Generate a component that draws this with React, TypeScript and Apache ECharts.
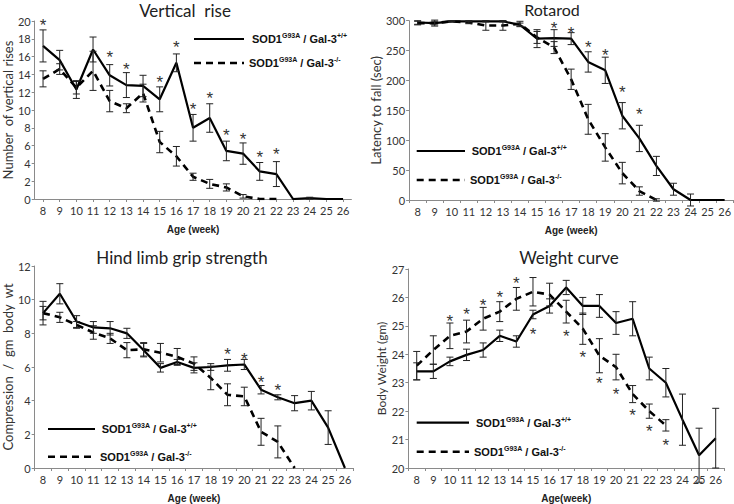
import React, { useEffect, useRef } from 'react';
import * as echarts from 'echarts';

const weeks = ['8', '9', '10', '11', '12', '13', '14', '15', '16', '17', '18', '19', '20', '21', '22', '23', '24', '25', '26'];

// Vertical rise
const vrWT = [17.2, 15.6, 12.3, 16.8, 13.9, 12.8, 12.7, 11.2, 15.3, 8.0, 9.1, 5.4, 5.1, 3.1, 2.8, 0, 0.1, 0, 0];
const vrWTErr = [1.8, 1.1, 1.0, 1.4, 1.2, 1.4, 1.2, 1.4, 1.0, 1.5, 1.6, 1.1, 1.2, 1.0, 1.4, 0, 0.1, 0, 0];
const vrKO = [13.5, 14.6, 12.5, 14.4, 11.0, 10.2, 11.9, 6.4, 4.8, 2.5, 1.7, 1.3, 0.3, 0, 0, null, null, null, null];
const vrKOErr = [0.9, 0.6, 0.7, 2.2, 1.2, 0.5, 1.0, 1.2, 1.1, 0.4, 0.5, 0.4, 0.2, 0, 0, null, null, null, null];
const vrStars = [[8, 19.9], [12, 16.3], [13, 15.0], [15, 13.5], [16, 17.5], [17, 10.5], [18, 11.7], [19, 7.6], [20, 7.1], [21, 5.1], [22, 5.4]];

// Rotarod
const rrWT = [297, 296, 299, 299, 299, 299, 293, 270, 271, 270, 231, 217, 141, 103, 57, 18, 0, 0, 0];
const rrWTErr = [3, 5, 1, 1, 1, 1, 3, 15, 14, 10, 17, 22, 22, 22, 16, 10, 10, 0, 0];
const rrKO = [296, 296, 299, 297, 292, 292, 295, 272, 255, 202, 135, 88, 45, 15, 0, null, null, null, null];
const rrKOErr = [3, 3, 1, 2, 8, 8, 4, 10, 10, 17, 25, 23, 18, 7, 2, null, null, null, null];
const rrStars = [[16, 294], [17, 286], [18, 262], [19, 248], [20, 187], [21, 149]];

// Hind limb grip strength
const gsWT = [9.2, 10.35, 8.7, 8.35, 8.3, 8.0, 7.0, 5.95, 6.3, 5.95, 6.0, 6.1, 6.15, 4.65, 4.2, 3.85, 4.0, 2.4, 0];
const gsWTErr = [0.7, 0.6, 0.35, 0.35, 0.4, 0.3, 0.4, 0.25, 0.15, 0.3, 0.2, 0.35, 0.3, 0.25, 0.15, 0.45, 0.55, 1.0, 0];
const gsKO = [9.2, 8.95, 8.5, 8.05, 7.7, 7.0, 7.05, 6.85, 6.6, 6.2, 5.35, 4.35, 4.25, 2.15, 1.55, 0, null, null, null];
const gsKOErr = [0.4, 0.3, 0.2, 0.4, 0.3, 0.45, 0.4, 0.55, 0.5, 0.4, 0.7, 0.65, 0.55, 0.8, 0.95, 0, null, null, null];
const gsStars = [[19, 7.0], [20, 6.7], [21, 5.3], [22, 4.85]];

// Weight curve
const wcWT = [23.4, 23.4, 23.75, 23.98, 24.15, 24.65, 24.45, 25.4, 25.7, 26.35, 25.7, 25.7, 25.1, 25.25, 23.5, 23.0, 21.7, 20.45, 21.05];
const wcWTErr = [0.3, 0.25, 0.15, 0.2, 0.25, 0.2, 0.2, 0.15, 0.25, 0.25, 0.3, 0.4, 0.4, 0.6, 0.4, 0.5, 0.9, 0.95, 1.05];
const wcKO = [23.6, 24.15, 24.65, 24.8, 25.25, 25.5, 25.95, 26.2, 26.1, 25.5, 24.9, 23.95, 23.55, 22.6, 22.0, 21.5, null, null, null];
const wcKOErr = [0.5, 0.5, 0.45, 0.4, 0.4, 0.35, 0.4, 0.5, 0.4, 0.4, 0.55, 0.6, 0.45, 0.3, 0.25, 0.2, null, null, null];
const wcStars = [[10, 25.31], [11, 25.55], [12, 25.87], [13, 26.15], [14, 26.62], [15, 24.85], [17, 24.77], [18, 24.04], [19, 23.12], [20, 22.73], [21, 22.0], [22, 21.42], [23, 20.92]];

const FONT = 'Lato, "Open Sans", sans-serif';
const AXIS_COLOR = '#8a8a8a';

type PanelCfg = {
  title: string;
  titleX: number;
  titleY: number;
  titleSize: number;
  grid: { left: number; top: number; width: number; height: number };
  yName: string;
  yNameGap: number;
  yNameSize: number;
  xName: string;
  yMin: number;
  yMax: number;
  yInterval: number;
  alignTicks: boolean;
  wt: (number | null)[];
  wtErr: (number | null)[];
  ko: (number | null)[];
  koErr: (number | null)[];
  stars: number[][];
  legend: { x1: number; x2: number; tx: number; y1: number; y2: number; tx2: number };
};

const panels: PanelCfg[] = [
  {
    title: 'Vertical  rise', titleX: 185, titleY: 2, titleSize: 17,
    grid: { left: 34.7, top: 21, width: 316.7, height: 178 },
    yName: 'Number  of vertical rises', yNameGap: 18, yNameSize: 13, xName: 'Age (week)',
    yMin: 0, yMax: 20, yInterval: 2, alignTicks: true,
    wt: vrWT, wtErr: vrWTErr, ko: vrKO, koErr: vrKOErr, stars: vrStars,
    legend: { x1: 194, x2: 244, tx: 252, y1: 39, y2: 63, tx2: 249 },
  },
  {
    title: 'Rotarod', titleX: 552, titleY: 1, titleSize: 16,
    grid: { left: 409.1, top: 20.7, width: 325, height: 179.3 },
    yName: 'Latency to fall (sec)', yNameGap: 26, yNameSize: 13, xName: 'Age (week)',
    yMin: 0, yMax: 300, yInterval: 50, alignTicks: false,
    wt: rrWT, wtErr: rrWTErr, ko: rrKO, koErr: rrKOErr, stars: rrStars,
    legend: { x1: 416.7, x2: 465, tx: 471.7, y1: 151, y2: 180, tx2: 470 },
  },
  {
    title: 'Hind limb grip strength', titleX: 182, titleY: 249, titleSize: 17,
    grid: { left: 34.3, top: 266, width: 319, height: 204 },
    yName: 'Compression  /  gm  body  wt', yNameGap: 20, yNameSize: 13, xName: 'Age (week)',
    yMin: 0, yMax: 12, yInterval: 2, alignTicks: false,
    wt: gsWT, wtErr: gsWTErr, ko: gsKO, koErr: gsKOErr, stars: gsStars,
    legend: { x1: 48, x2: 95, tx: 101.7, y1: 429, y2: 456.7, tx2: 100 },
  },
  {
    title: 'Weight curve', titleX: 569, titleY: 249, titleSize: 17,
    grid: { left: 408.4, top: 269, width: 315.6, height: 202 },
    yName: 'Body Weight (gm)', yNameGap: 20, yNameSize: 12, xName: 'Age(week)',
    yMin: 20, yMax: 27, yInterval: 1, alignTicks: false,
    wt: wcWT, wtErr: wcWTErr, ko: wcKO, koErr: wcKOErr, stars: wcStars,
    legend: { x1: 416.7, x2: 469, tx: 476, y1: 422.7, y2: 451.7, tx2: 474 },
  },
];

function errData(vals: (number | null)[], errs: (number | null)[]) {
  const out: number[][] = [];
  vals.forEach((v, i) => {
    const e = errs[i];
    if (v == null || e == null || e === 0) return;
    out.push([i, v - e, v + e]);
  });
  return out;
}

const errRender = (params: any, api: any) => {
  const idx = api.value(0);
  const lo = api.coord([idx, api.value(1)]);
  const hi = api.coord([idx, api.value(2)]);
  const hw = 3.5;
  const style = { stroke: '#222', lineWidth: 1 };
  return {
    type: 'group',
    children: [
      { type: 'line', shape: { x1: hi[0], y1: hi[1], x2: lo[0], y2: lo[1] }, style },
      { type: 'line', shape: { x1: hi[0] - hw, y1: hi[1], x2: hi[0] + hw, y2: hi[1] }, style },
      { type: 'line', shape: { x1: lo[0] - hw, y1: lo[1], x2: lo[0] + hw, y2: lo[1] }, style },
    ],
  };
};

const starRender = (params: any, api: any) => {
  const p = api.coord([api.value(0), api.value(1)]);
  return {
    type: 'text',
    x: p[0],
    y: p[1] + 4,
    style: {
      text: '*',
      fontSize: 17,
      fontFamily: 'Arial, "Liberation Sans", sans-serif',
      fill: '#333',
      align: 'center',
      verticalAlign: 'middle',
    },
  };
};

const legendRich = {
  b: { fontSize: 11, fontWeight: 'bold', fontFamily: 'Arial, "Liberation Sans", sans-serif', fill: '#111', lineHeight: 14 },
  s: { fontSize: 7, fontWeight: 'bold', fontFamily: 'Arial, "Liberation Sans", sans-serif', fill: '#111', lineHeight: 8, verticalAlign: 'top' },
};

function buildOption() {
  const title: any[] = [];
  const grid: any[] = [];
  const xAxis: any[] = [];
  const yAxis: any[] = [];
  const series: any[] = [];
  const graphic: any[] = [];

  panels.forEach((p, i) => {
    title.push({
      text: p.title,
      left: p.titleX,
      top: p.titleY,
      textAlign: 'center',
      padding: 0,
      textStyle: { fontSize: p.titleSize, fontWeight: 'normal', fontFamily: FONT, color: '#222' },
    });
    grid.push({ ...p.grid });
    xAxis.push({
      type: 'category',
      gridIndex: i,
      data: weeks,
      boundaryGap: true,
      name: p.xName,
      nameLocation: 'middle',
      nameGap: 25,
      nameTextStyle: { fontSize: 10, fontWeight: 'bold', fontFamily: 'Arial, "Liberation Sans", sans-serif', color: '#222' },
      axisLine: { lineStyle: { color: AXIS_COLOR, width: 1 } },
      axisTick: { show: true, alignWithLabel: p.alignTicks, length: 3, lineStyle: { color: AXIS_COLOR } },
      axisLabel: { fontSize: 11, fontFamily: FONT, color: '#333', margin: 6, interval: 0 },
      splitLine: { show: false },
    });
    yAxis.push({
      type: 'value',
      gridIndex: i,
      min: p.yMin,
      max: p.yMax,
      interval: p.yInterval,
      name: p.yName,
      nameLocation: 'middle',
      nameRotate: 90,
      nameGap: p.yNameGap,
      nameTextStyle: { fontSize: p.yNameSize, fontFamily: FONT, color: '#333' },
      axisLine: { show: true, lineStyle: { color: AXIS_COLOR, width: 1 } },
      axisTick: { show: true, length: 3, lineStyle: { color: AXIS_COLOR } },
      axisLabel: { fontSize: 11, fontFamily: FONT, color: '#333', margin: 4 },
      splitLine: { show: false },
    });
    series.push({
      type: 'line',
      xAxisIndex: i,
      yAxisIndex: i,
      data: p.wt,
      symbol: 'none',
      z: 3,
      lineStyle: { color: '#000', width: 2.2 },
    });
    series.push({
      type: 'line',
      xAxisIndex: i,
      yAxisIndex: i,
      data: p.ko,
      symbol: 'none',
      z: 3,
      lineStyle: { color: '#000', width: 2.6, type: [7, 5] },
    });
    series.push({
      type: 'custom',
      xAxisIndex: i,
      yAxisIndex: i,
      data: errData(p.wt, p.wtErr).concat(errData(p.ko, p.koErr)),
      renderItem: errRender,
      z: 4,
      clip: false,
    });
    series.push({
      type: 'custom',
      xAxisIndex: i,
      yAxisIndex: i,
      data: p.stars.map((s) => [s[0] - 8, s[1]]),
      renderItem: starRender,
      z: 5,
      clip: false,
    });

    const L = p.legend;
    graphic.push({ type: 'line', shape: { x1: L.x1, y1: L.y1, x2: L.x2, y2: L.y1 }, style: { stroke: '#000', lineWidth: 2.2 } });
    graphic.push({ type: 'line', shape: { x1: L.x1, y1: L.y2, x2: L.x2, y2: L.y2 }, style: { stroke: '#000', lineWidth: 2.6, lineDash: [7, 5] } });
    graphic.push({
      type: 'text', x: L.tx, y: L.y1,
      style: { text: '{b|SOD1}{s|G93A}{b| / Gal-3}{s|+/+}', rich: legendRich, verticalAlign: 'middle', align: 'left' },
    });
    graphic.push({
      type: 'text', x: L.tx2, y: L.y2,
      style: { text: '{b|SOD1}{s|G93A}{b| / Gal-3}{s|-/-}', rich: legendRich, verticalAlign: 'middle', align: 'left' },
    });
  });

  return {
    animation: false,
    backgroundColor: '#fff',
    title,
    grid,
    xAxis,
    yAxis,
    series,
    graphic,
  };
}

export default function App() {
  const ref = useRef<HTMLDivElement>(null);
  useEffect(() => {
    if (!ref.current) return;
    const chart = echarts.init(ref.current, null, { renderer: 'svg' });
    chart.setOption(buildOption() as any);
    return () => chart.dispose();
  }, []);
  return <div ref={ref} style={{ width: 734, height: 504, position: 'absolute', left: 0, top: 0 }} />;
}
